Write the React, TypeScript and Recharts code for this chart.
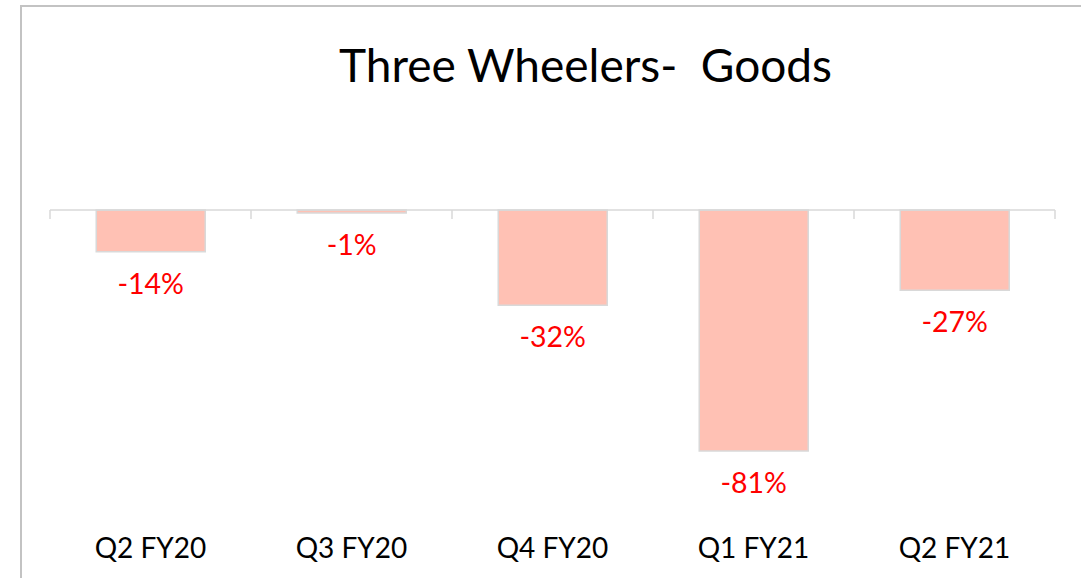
import { Bar, BarChart, LabelList, ReferenceLine, XAxis, YAxis } from "recharts";

const PINK = "#FFC1B4";
const EDGE = "#D9D9D9";
const RED = "#FF0000";
const FONT = "Lato, 'Open Sans', sans-serif";

const quarters = ["Q2 FY20", "Q3 FY20", "Q4 FY20", "Q1 FY21", "Q2 FY21"];
const growth = [-14, -1, -32, -81, -27];
const yRange = [-100, 0];
const tickDepth = -3; // the short marks hanging below the zero line

const data = quarters.map((q, i) => ({ q, g: growth[i] }));

function BelowLabel(props: any) {
  const { x, y, width, height, value } = props;
  const end = Math.max(y, y + height);
  return (
    <text x={x + width / 2} y={end + 42} textAnchor="middle" fill={RED} fontSize={28.5} fontFamily={FONT}>
      {`${value}%`}
    </text>
  );
}

function boundary(q: string, pos: "start" | "end") {
  return (
    <ReferenceLine
      key={`${q}-${pos}`}
      xAxisId="cat"
      position={pos}
      segment={[
        { x: q, y: 0 },
        { x: q, y: tickDepth },
      ]}
      stroke={EDGE}
      strokeWidth={1.5}
    />
  );
}

export default function App() {
  return (
    <div style={{ position: "absolute", left: 0, top: 0, width: 1081, height: 578, overflow: "hidden", background: "#fff" }}>
      <div
        style={{
          position: "absolute",
          left: 20,
          top: 5,
          width: 1200,
          height: 700,
          border: "2px solid #C3C3C3",
        }}
      />
      <svg width={1081} height={120} style={{ position: "absolute", left: 0, top: 0 }}>
        <text x={585.5} y={82} textAnchor="middle" fontSize={46} fontFamily={FONT} fill="#000">
          Three Wheelers-&#160; Goods
        </text>
      </svg>
      <div style={{ position: "absolute", left: 0, top: 0 }}>
        <BarChart
          width={1081}
          height={578}
          data={data}
          margin={{ top: 210, right: 26, bottom: 30.5, left: 50 }}
          barCategoryGap="23%"
        >
          <XAxis
            dataKey="q"
            xAxisId="cat"
            axisLine={false}
            tickLine={false}
            height={40}
            tickSize={0}
            tickMargin={31}
            tick={{ fill: "#000", fontSize: 28, fontFamily: FONT }}
            interval={0}
          />
          <YAxis hide domain={yRange} type="number" />
          <ReferenceLine xAxisId="cat" y={0} stroke={EDGE} strokeWidth={1.5} />
          {quarters.map((q) => boundary(q, "start"))}
          {boundary(quarters[quarters.length - 1], "end")}
          <Bar dataKey="g" xAxisId="cat" fill={PINK} stroke={EDGE} strokeWidth={1.5} isAnimationActive={false}>
            <LabelList dataKey="g" content={BelowLabel} />
          </Bar>
        </BarChart>
      </div>
    </div>
  );
}
